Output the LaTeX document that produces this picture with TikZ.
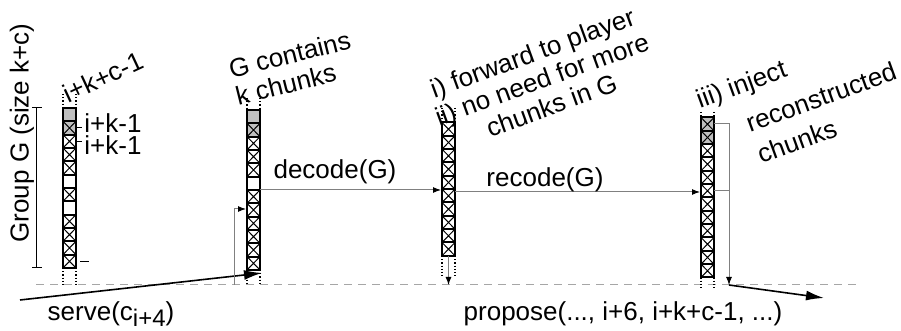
\documentclass[tikz,border=0pt]{standalone}
\usepackage{fontspec}
\setmainfont{Liberation Sans}
\usetikzlibrary{arrows.meta}

\tikzset{
  cellbox/.style={draw=black, line width=1pt},
  cross/.style={draw=black, line width=0.5pt},
  guide/.style={densely dotted, line width=0.6pt},
  flow/.style={draw=gray, line width=0.5pt, -{Latex[length=4pt,width=3pt,black]}},
  bigflow/.style={draw=black, line width=0.8pt, -{Latex[length=9pt,width=5pt]}},
  timeline/.style={draw=gray!70, line width=0.5pt, dash pattern=on 4pt off 3pt},
  lbl/.style={inner sep=0pt, font=\fontsize{13}{14}\selectfont},
}

\begin{document}
\begin{tikzpicture}[x=0.5pt,y=-0.5pt]
        \useasboundingbox (0,0) rectangle (901,331);
        % time line
        \coordinate (tl0) at (36,285);
        \coordinate (tl1) at (860,285);
        \draw[timeline] (tl0) -- (tl1);

        % group bracket
        \draw[line width=0.5pt] (32,108) -- (42,108) (36,108) -- (36,268) (32,268) -- (42,268);
        \node[lbl, rotate=90] (grp) at (22,133) {Group G (size k+c)};

        % buffer 1
        \fill[gray!50] (63,108) rectangle ++(13,26.67);
        \foreach \n in {1,2,3,4,6,8,9,10,11}
        \draw[cross] (63,108+13.33*\n) -- ++(13,13.33) ++(0,-13.33) -- ++(-13,13.33);
        \foreach \n in {0,...,11}
        \draw[cellbox] (63,108+13.33*\n) rectangle ++(13,13.33);
        \draw[guide] (63,94) -- (63,108) (76,94) -- (76,108) (63,268) -- (63,285) (76,268) -- (76,285);
        \node[lbl, rotate=25] (last) at (103,77) {i+k+c-1};
        \draw[line width=0.5pt] (77,128) -- (82,128) (77,142) -- (82,142) (80,262) -- (89,262);
        \node[lbl, anchor=west] (k1a) at (84,123) {i+k-1};
        \node[lbl, anchor=west] (k1b) at (84,145) {i+k-1};

        % buffer 2
        \fill[gray!50] (247,110) rectangle ++(13,26.67);
        \foreach \n in {1,2,3,4,6,7,8,9,10,11}
        \draw[cross] (247,110+13.33*\n) -- ++(13,13.33) ++(0,-13.33) -- ++(-13,13.33);
        \foreach \n in {0,...,11}
        \draw[cellbox] (247,110+13.33*\n) rectangle ++(13,13.33);
        \draw[guide] (247,98) -- (247,110) (260,98) -- (260,110) (247,270) -- (247,285) (260,270) -- (260,285);
        \node[lbl, rotate=14, align=left] (full) at (293,68) {G contains\\k chunks};

        % buffer 3
        \foreach \n in {0,...,9}
        \draw[cross] (442,122.5+13.33*\n) -- ++(13,13.33) ++(0,-13.33) -- ++(-13,13.33);
        \foreach \n in {0,...,9}
        \draw[cellbox] (442,122.5+13.33*\n) rectangle ++(13,13.33);
        \draw[guide] (442,108) -- (442,122.5) (455,108) -- (455,122.5) (442,256) -- (442,276) (455,256) -- (455,276);
        \node[lbl, rotate=20, align=center] (fwd) at (542,79) {i) forward to player\\ii) no need for more\\chunks in G};

        % buffer 4
        \fill[gray!50] (701,117.5) rectangle ++(13,26.67);
        \foreach \n in {0,...,11}
        \draw[cross] (701,117.5+13.33*\n) -- ++(13,13.33) ++(0,-13.33) -- ++(-13,13.33);
        \foreach \n in {0,...,11}
        \draw[cellbox] (701,117.5+13.33*\n) rectangle ++(13,13.33);
        \draw[guide] (701,112) -- (701,117.5) (714,112) -- (714,117.5) (701,277.5) -- (701,289) (714,277.5) -- (714,289);
        \node[lbl, rotate=20] (inj1) at (742,86) {iii) inject};
        \node[lbl, rotate=20] (inj2) at (821,97) {reconstructed};
        \node[lbl, rotate=20] (inj3) at (797,141) {chunks};

        % messages
        \coordinate (srv) at (20,300);
        \coordinate (in2) at (262,273);
        \draw[bigflow] (srv) -- (in2);
        \node[lbl] (serve) at (111,314) {serve(c\raisebox{-0.45ex}{\fontsize{12}{12}\selectfont i+4})};

        \coordinate (fb) at (234,285);
        \coordinate (in2b) at (246,209);
        \draw[flow] (fb) |- (in2b);

        \coordinate (out2) at (260,190);
        \coordinate (in3) at (441,190);
        \draw[flow] (out2) -- (in3);
        \node[lbl] (dec) at (335,172) {decode(G)};

        \coordinate (out3) at (455,192);
        \coordinate (in4) at (700,192);
        \draw[flow] (out3) -- (in4);
        \node[lbl] (rec) at (545,180) {recode(G)};

        \coordinate (b3) at (448.5,256);
        \coordinate (p3) at (448.5,285);
        \draw[flow] (b3) -- (p3);

        \coordinate (out4a) at (714,124);
        \coordinate (out4b) at (714,191);
        \coordinate (j4) at (729,191);
        \coordinate (p4) at (729,285);
        \draw[flow] (out4a) -| (p4);
        \draw[draw=gray, line width=0.5pt] (out4b) -- (j4);
        \coordinate (pr) at (824,298);
        \draw[bigflow] (p4) -- (pr);
        \node[lbl] (prop) at (623,314) {propose(..., i+6, i+k+c-1, ...)};
\end{tikzpicture}
\end{document}
